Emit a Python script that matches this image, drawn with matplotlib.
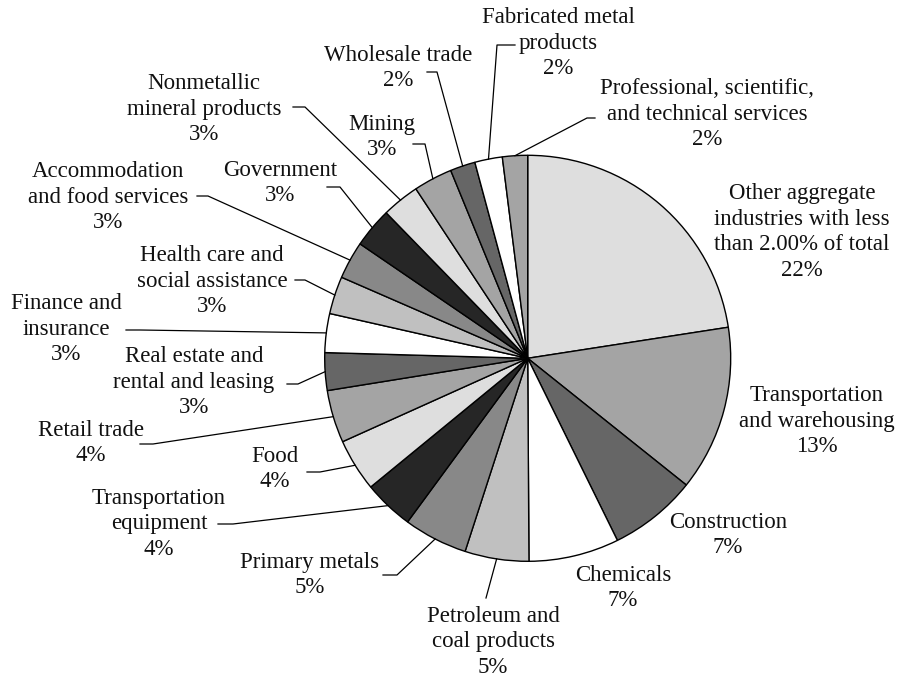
import numpy as np
import matplotlib
matplotlib.use('Agg')
import matplotlib.pyplot as plt

# shares (clockwise from 12 o'clock)
industries = ['Other aggregate\nindustries with less\nthan 2.00% of total',
              'Transportation\nand warehousing',
              'Construction',
              'Chemicals',
              'Petroleum and\ncoal products',
              'Primary metals',
              'Transportation\nequipment',
              'Food',
              'Retail trade',
              'Real estate and\nrental and leasing',
              'Finance and\ninsurance',
              'Health care and\nsocial assistance',
              'Accommodation\nand food services',
              'Government',
              'Nonmetallic\nmineral products',
              'Mining',
              'Wholesale trade',
              'Fabricated metal\nproducts',
              'Professional, scientific,\nand technical services']
shares = [22.6, 13.2, 7.0, 7.2, 5.1, 5.1, 4.0, 4.2, 4.2, 3.0, 3.1, 3.0, 3.0, 3.2,
          3.0, 3.1, 2.0, 2.2, 2.0]
pct_text = ['22%', '13%', '7%', '7%', '5%', '5%', '4%', '4%', '4%', '3%', '3%',
            '3%', '3%', '3%', '3%', '3%', '2%', '2%', '2%']
colors = ['#dedede', '#a4a4a4', '#666666', '#ffffff', '#c0c0c0', '#888888',
          '#262626', '#dedede', '#a4a4a4', '#666666', '#ffffff', '#c0c0c0',
          '#888888', '#262626', '#dedede', '#a4a4a4', '#666666', '#ffffff',
          '#a4a4a4']

# layout in pixels: text centre, leader elbow, leader end (None = no leader)
CX, CY, R = 527.7, 358.3, 203.0
text_pos = [(802, 232), (817, 421), (728, 535), (623, 588), (493, 642),
            (310, 575), (159, 524), (275, 469), (91, 443), (194, 382),
            (66, 329), (212, 281), (108, 197), (280, 183), (204, 109),
            (382, 137), (398, 68), (558, 43), (707, 114)]
leaders = [None, None, None, None,
           ((486, 598), (486, 598)),
           ((397, 575), (383, 575)),
           ((233, 524), (218, 524)),
           ((320, 472), (307, 472)),
           ((153, 444), (140, 444)),
           ((298, 384), (287, 384)),
           ((140, 330), (126, 330)),
           ((305, 280), (295, 280)),
           ((208, 196), (197, 196)),
           ((340, 187), (327, 187)),
           ((305, 107), (293, 107)),
           ((425, 144), (413, 144)),
           ((437, 72), (427, 72)),
           ((497, 45), (515, 45)),
           ((587, 118), (595, 118))]


def px(p):
    return ((p[0] - CX) / R, (CY - p[1]) / R)


plt.rcParams['font.family'] = ['Liberation Serif', 'DejaVu Serif']

fig = plt.figure(figsize=(9.06, 6.8), dpi=100)
ax = fig.add_axes([0, 0, 1, 1])

wedges, _ = ax.pie(shares, colors=colors, startangle=90, counterclock=False,
                   radius=1.0, center=(0, 0), frame=True,
                   wedgeprops=dict(edgecolor='black', linewidth=1.0))
ax.set_xlim(-CX / R, (906 - CX) / R)
ax.set_ylim((CY - 680) / R, CY / R)
ax.set_aspect('equal')
ax.axis('off')

for w, name, pct, tp, ld in zip(wedges, industries, pct_text, text_pos, leaders):
    tx, ty = px(tp)
    ax.text(tx, ty, name + '\n' + pct, ha='center', va='center',
            multialignment='center', fontsize=16.5, linespacing=1.28,
            color='#111111')
    if ld is not None:
        mid = np.deg2rad((w.theta1 + w.theta2) / 2)
        sx, sy = np.cos(mid), np.sin(mid)
        ex, ey = px(ld[0])
        fx, fy = px(ld[1])
        ax.plot([sx, ex, fx], [sy, ey, fy], color='black', linewidth=0.9)

fig.savefig('out.png', dpi=100)
